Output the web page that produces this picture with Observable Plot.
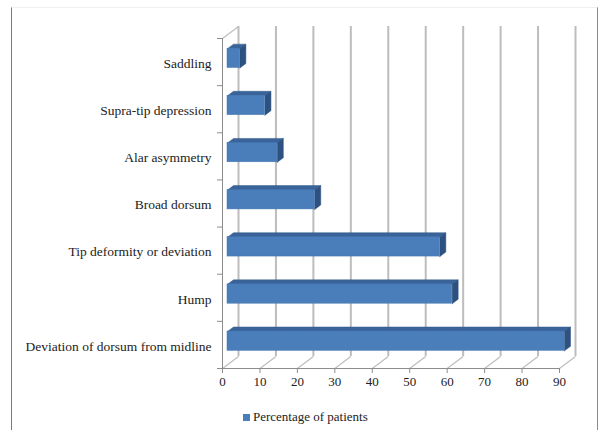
<!DOCTYPE html>
<html>
<head>
<meta charset="utf-8">
<script src="https://cdn.jsdelivr.net/npm/d3@7"></script>
<script src="https://cdn.jsdelivr.net/npm/@observablehq/plot@0.6"></script>
<style>
  html, body { margin: 0; padding: 0; background: #fff; }
  #wrap { position: relative; width: 606px; height: 430px; overflow: hidden; font-family: 'Liberation Serif', 'DejaVu Serif', Tinos, 'Noto Serif', serif; }
  #frame { position: absolute; left: 11px; top: 7px; width: 587px; height: 440px; border-left: 1.5px solid #7a7a7a; border-right: 1.5px solid #8a8a8a; border-top: 1px solid #f0f0f0; box-sizing: border-box; pointer-events: none; }
  #chart { position: absolute; left: 0; top: 0; }
  #chart svg, #chart svg text { font-family: 'Liberation Serif', 'DejaVu Serif', Tinos, 'Noto Serif', serif !important; }
  #legend { position: absolute; left: 243px; top: 409px; font-size: 13px; color: #222; display: flex; align-items: center; }
  #legend .sw { width: 7px; height: 7px; background: #4a7ebb; margin-right: 3px; }
</style>
</head>
<body>
<div id="wrap">
  <div id="chart"></div>
  <div id="legend"><span class="sw"></span><span id="legendText"></span></div>
  <div id="frame"></div>
</div>
<script>
// ---- data ----
const categories = [
  "Deviation of dorsum from midline",
  "Hump",
  "Tip deformity or deviation",
  "Broad dorsum",
  "Alar asymmetry",
  "Supra-tip depression",
  "Saddling"
];
const values = [90, 60, 56.7, 23.3, 13.3, 10, 3.3];
const xTicks = [0, 10, 20, 30, 40, 50, 60, 70, 80, 90];
const seriesName = "Percentage of patients";

// ---- layout ----
const W = 606, H = 400, mL = 222, mR = 47, mT = 38, mB = 32;
const xMax = 90, nCat = categories.length;
const ux = (W - mL - mR) / xMax;   // px per x unit
const uy = (H - mT - mB) / nCat;   // px per category
// 3D depth offsets (pixels -> data units)
const back = {x: 16 / ux, y: 12 / uy};
const front = {x: 5 / ux, y: 3.75 / uy};
const depth = {x: 6 / ux, y: 4.5 / uy};
const barH = 0.41;

const bars = categories.map((c, i) => {
  const v = values[i];
  const x0 = front.x, x1 = v + front.x;
  const yB = i + 0.5 - barH / 2 + front.y, yT = i + 0.5 + barH / 2 + front.y;
  return {c, v, x0, x1, yB, yT};
});
const topFaces = [], sideFaces = [];
bars.forEach((b, i) => {
  [[b.x0, b.yT], [b.x1, b.yT], [b.x1 + depth.x, b.yT + depth.y], [b.x0 + depth.x, b.yT + depth.y], [b.x0, b.yT]]
    .forEach(([x, y]) => topFaces.push({id: i, x, y}));
  [[b.x1, b.yB], [b.x1, b.yT], [b.x1 + depth.x, b.yT + depth.y], [b.x1 + depth.x, b.yB + depth.y], [b.x1, b.yB]]
    .forEach(([x, y]) => sideFaces.push({id: i, x, y}));
});

const gridColor = "#bdbdbd", axisColor = "#8c8c8c";
const serif = "'Liberation Serif', 'DejaVu Serif', Tinos, 'Noto Serif', serif";

const chart = Plot.plot({
  width: W, height: H,
  marginLeft: mL, marginRight: mR, marginTop: mT, marginBottom: mB,
  x: {domain: [0, xMax], axis: null},
  y: {domain: [0, nCat], axis: null},
  style: {fontFamily: serif, fontSize: "13px", color: "#222", background: "transparent", overflow: "visible"},
  marks: [
    // back wall gridlines
    Plot.ruleX(xTicks, {x: d => d + back.x, y1: back.y, y2: nCat + back.y, stroke: gridColor, strokeWidth: 2}),
    // floor diagonals
    Plot.link(xTicks, {x1: d => d, y1: 0, x2: d => d + back.x, y2: back.y, stroke: gridColor, strokeWidth: 1.2}),
    // left wall top edge
    Plot.link([nCat], {x1: 0, y1: d => d, x2: back.x, y2: d => d + back.y, stroke: gridColor, strokeWidth: 1.2}),
    // front axis lines
    Plot.ruleY([0], {x1: 0, x2: xMax, stroke: axisColor}),
    Plot.ruleX([0], {y1: 0, y2: nCat, stroke: axisColor}),
    Plot.axisX({ticks: xTicks, tickSize: 5, tickPadding: 3, stroke: axisColor, fontSize: 13}),
    Plot.axisY({ticks: d3.range(nCat + 1), tickSize: 5, tickFormat: () => "", stroke: axisColor}),
    // category labels
    Plot.text(categories, {x: 0, y: (d, i) => i + 0.5, text: d => d, textAnchor: "end", dx: -11, dy: 1.5, fontSize: 13.5, fill: "#222"}),
    // bars: top and side faces, then front
    Plot.line(topFaces, {x: "x", y: "y", z: "id", fill: "#3a6499", stroke: "#34598a", strokeWidth: 0.5}),
    Plot.line(sideFaces, {x: "x", y: "y", z: "id", fill: "#2d5181", stroke: "#2a4c78", strokeWidth: 0.5}),
    Plot.rect(bars, {x1: "x0", x2: "x1", y1: "yB", y2: "yT", fill: "#4a7ebb", stroke: "#4577b2", strokeWidth: 0.5})
  ]
});
document.getElementById("chart").appendChild(chart);
document.getElementById("legendText").textContent = seriesName;
</script>
</body>
</html>
